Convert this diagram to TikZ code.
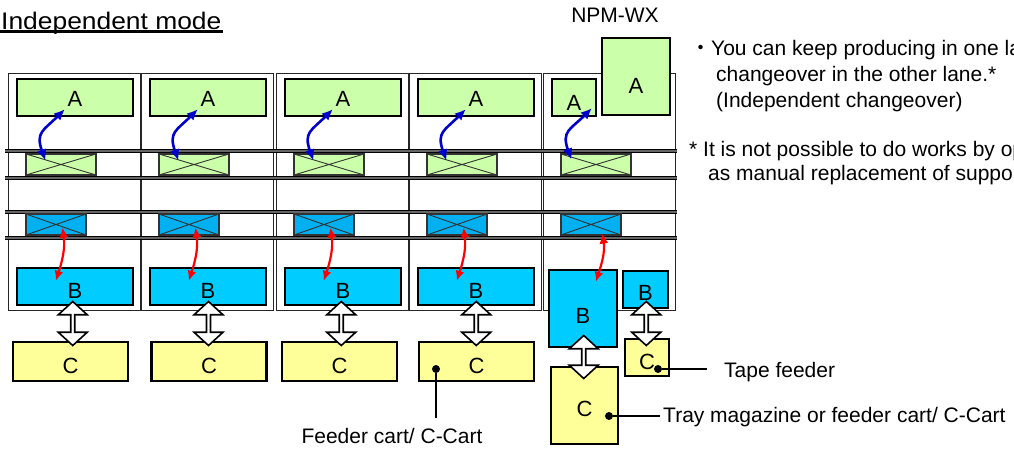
\documentclass[tikz,border=0pt]{standalone}
\usepackage{fontspec}
\setmainfont{Liberation Sans}
\newfontfamily\cjk{Noto Sans CJK JP}
\newfontfamily\wide[FakeStretch=1.1]{Liberation Sans}
\usetikzlibrary{positioning,arrows.meta,calc,shapes.arrows}
\definecolor{leaf}{HTML}{CCFFAA}
\definecolor{sky}{HTML}{00CCFF}
\definecolor{skydeep}{HTML}{00B0F0}
\definecolor{cream}{HTML}{FFFF99}
\definecolor{railgray}{HTML}{666666}
\definecolor{navy}{HTML}{0000CC}
\definecolor{signal}{HTML}{FF0000}
\newcommand{\lb}{\fontsize{22pt}{26pt}\selectfont}
\newcommand{\tx}{\fontsize{21pt}{25pt}\selectfont}
\tikzset{
  unit/.style={draw=black!85, line width=1.4pt, fill=white, anchor=north west, inner sep=0pt},
  part/.style={draw=black, line width=2.4pt, inner sep=0pt, font=\lb, text depth=0pt},
  abox/.style={part, fill=leaf, text height=17pt},
  bbox/.style={part, fill=sky, text height=23pt},
  cbox/.style={part, fill=cream, text height=23pt},
  xbox/.style={draw=black!80, line width=1.1pt, inner sep=0pt, minimum height=21pt,
    path picture={\draw[line width=0.9pt]
      (path picture bounding box.north west) -- (path picture bounding box.south east)
      (path picture bounding box.south west) -- (path picture bounding box.north east);}},
  rail/.style={draw=black, double=railgray, double distance=2.2pt, line width=1.1pt},
  barr/.style={{Latex[length=11pt,width=10pt]}-{Latex[length=11pt,width=10pt]},
    line width=2.6pt, color=navy},
  rarr/.style={{Latex[length=10pt,width=9pt]}-{Latex[length=10pt,width=9pt]},
    line width=2.2pt, color=signal},
  dbl/.style={shape=double arrow, draw=black, line width=1.6pt, fill=white, rotate=90,
    minimum height=44pt, minimum width=29pt, double arrow head extend=5pt,
    double arrow tip angle=95, inner sep=0pt},
  blob/.style={circle, fill=black, inner sep=0pt, minimum size=8pt},
  lead/.style={line width=1.8pt},
  lab/.style={font=\tx, inner sep=3pt},
}

\begin{document}
\begin{tikzpicture}[x=1pt, y=1pt]
    \useasboundingbox (0,0) rectangle (1014,-450);
    \node[font=\wide\fontsize{24pt}{28pt}\selectfont, anchor=base west, inner sep=1pt] (mode) at (0,-29) {Independent mode};
    \draw[line width=2.4pt] ([yshift=-2.5pt]mode.base west) -- ([yshift=-2.5pt]mode.base east);
    \node[lab] (npm) at (615,-15.5) {NPM-WX};
    \foreach \i/\ux in {1/8,2/141,3/276,4/409,5/543}
      \node[unit, minimum width=132pt, minimum height=237pt] (u\i) at (\ux,-73) {};
    \foreach \y in {151,178,212,238} \draw[rail] (5,-\y) -- (677,-\y);
    \foreach \i/\ux in {1/8,2/141,3/276,4/409,5/543} {
      \node[xbox, fill=leaf, minimum width=70pt] (g\i) at (\ux+53,-164.5) {};
      \node[xbox, fill=skydeep, minimum width=60pt] (x\i) at (\ux+48,-224.5) {};
    }
    \foreach \i/\ux/\cx in {1/8/70.5,2/141/209,3/276/339.5,4/409/476.5} {
      \node[abox, minimum width=116pt, minimum height=37pt] (a\i) at (\ux+67,-97.5) {A};
      \node[bbox, minimum width=116pt, minimum height=37pt] (b\i) at (\ux+67,-286.5) {B};
      \node[cbox, minimum width=115pt, minimum height=39pt] (c\i) at (\cx,-361.5) {C};
      \draw[barr] ([shift={(20pt,-7pt)}]g\i.north west) to[out=110,in=225,looseness=1.4] ([shift={(49pt,8pt)}]a\i.south west);
      \draw[rarr] ([shift={(37pt,8pt)}]x\i.south west) to[out=-82,in=72] ([shift={(40pt,-14pt)}]b\i.north west);
      \node[dbl] (d\i) at ($(b\i.south)!.5!(c\i.north)$) {};
    }
    \node[abox, minimum width=44pt, minimum height=37pt, text height=25pt] (a5) at (574,-97.5) {A};
    \node[abox, minimum width=68pt, minimum height=77pt, text height=33pt] (a6) at (636,-76.5) {A};
    \node[bbox, minimum width=68pt, minimum height=77pt, text height=29pt] (b5) at (583,-308.5) {B};
    \node[bbox, minimum width=45pt, minimum height=37pt, text height=21pt] (b6) at (645.5,-289.5) {B};
    \node[cbox, minimum width=67pt, minimum height=77pt, text height=21pt] (c5) at (584.5,-405.5) {C};
    \node[cbox, minimum width=44pt, minimum height=37pt, text height=23pt] (c6) at (647,-357.5) {C};
    \draw[barr] ([shift={(11pt,-6pt)}]g5.north west) to[out=110,in=225,looseness=1.4] ([shift={(41pt,9pt)}]a5.south west);
    \draw[rarr] ([shift={(42pt,2pt)}]x5.south west) to[out=-82,in=72] ([shift={(48pt,-13pt)}]b5.north west);
    \node[dbl, minimum height=43pt] (d5) at ($(b5.south)!.5!(c5.north)$) {};
    \node[dbl] (d6) at ($(b6.south)!.5!(c6.north)$) {};
    \node[blob] (fdot) at (436,-369) {};
    \node[lab, anchor=base] (flab) at (392,-443) {Feeder cart/ C-Cart};
    \draw[lead] (fdot) -- ([yshift=7pt]fdot |- flab.north);
    \node[blob] (tdot) at (658,-369) {};
    \node[lab, anchor=west] (tlab) at (721,-372) {Tape feeder};
    \draw[lead] (tdot) -- ([xshift=-14pt]tdot -| tlab.west);
    \node[blob] (ydot) at (609,-416) {};
    \node[lab, anchor=west] (ylab) at (660,-417.5) {Tray magazine or feeder cart/ C-Cart};
    \draw[lead] (ydot) -- (ydot -| ylab.west);
    \node[anchor=north west, align=left, inner sep=0pt, font=\fontsize{21pt}{26pt}\selectfont] (note) at (690,-40)
      {{\cjk ・}You can keep producing in one lane\\\hspace*{26pt}changeover in the other lane.*\\\hspace*{26pt}(Independent changeover)};
    \node[anchor=north west, align=left, inner sep=0pt, font=\fontsize{21pt}{24pt}\selectfont] (rule) at (689,-141)
      {* It is not possible to do works by operator\\\hspace*{19pt}as manual replacement of support};
  \end{tikzpicture}
\end{document}
